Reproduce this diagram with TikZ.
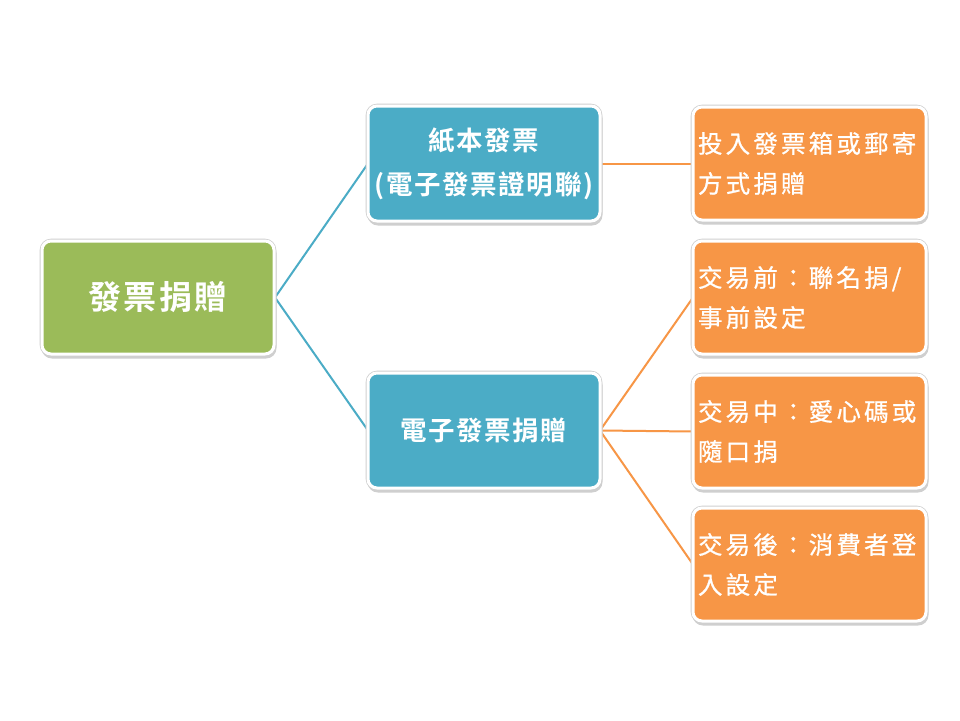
\documentclass[tikz,border=0pt]{standalone}
\usepackage{fontspec}
\setmainfont{Noto Sans CJK TC}[BoldFont={* Bold}]
\newfontfamily\rootfont{Noto Sans CJK TC}[LetterSpace=8,BoldFont={* Bold}]
\newfontfamily\bluefont{Noto Sans CJK TC}[LetterSpace=6,BoldFont={* Bold}]
\newfontfamily\orangefont{Noto Sans CJK TC}[LetterSpace=13,FakeBold=0.8]
\definecolor{cgreen}{HTML}{9BBB59}
\definecolor{cblue}{HTML}{4BACC6}
\definecolor{corange}{HTML}{F79646}
\definecolor{cshadow}{HTML}{CFCFCF}
\definecolor{cedge}{HTML}{D0D0D0}
\tikzset{
  boxbase/.style={rectangle, rounded corners=9pt, draw=white, line width=3pt, text=white,
    preaction={fill=cshadow, draw=cshadow, line width=3pt, transform canvas={yshift=-3pt, xshift=1pt}},
    preaction={draw=cedge, line width=4.6pt}},
  rootbox/.style={boxbase, fill=cgreen, minimum width=232pt, minimum height=113pt,
    font=\rootfont\bfseries\fontsize{33pt}{36pt}\selectfont},
  bluebox/.style={boxbase, fill=cblue, minimum width=232pt, minimum height=115pt, align=center,
    font=\bluefont\bfseries\fontsize{26.5pt}{44pt}\selectfont},
  orangebox/.style={boxbase, fill=corange, minimum width=233pt, minimum height=113pt,
    text width=223pt, inner xsep=5pt, align=left,
    font=\orangefont\fontsize{24.5pt}{40pt}\selectfont},
  bluelink/.style={draw=cblue, line width=2pt},
  orangelink/.style={draw=corange, line width=2pt}
}
\begin{document}
\begin{tikzpicture}[x=1pt,y=-1pt]
\useasboundingbox (0,0) rectangle (960,720);
\fill[white] (0,0) rectangle (960,720);
% connector end points
\coordinate (r) at (275,297.5);
\coordinate (pl) at (368,163.5);
\coordinate (el) at (368,430.5);
\coordinate (pr) at (600,163.5);
\coordinate (er) at (600,430.5);
\coordinate (o1l) at (693,163.5);
\coordinate (o2l) at (693,297.5);
\coordinate (o3l) at (693,431.5);
\coordinate (o4l) at (693,564.5);
\draw[bluelink] (r) -- (pl);
\draw[bluelink] (r) -- (el);
\draw[orangelink] (pr) -- (o1l);
\draw[orangelink] (er) -- (o2l);
\draw[orangelink] (er) -- (o3l);
\draw[orangelink] (er) -- (o4l);
% boxes
\node[rootbox] (root) at (158,297.5) {發票捐贈};
\node[bluebox] (paper) at (484,163.5) {紙本發票\\(電子發票證明聯)};
\node[bluebox] (einv) at (484,430.5) {電子發票捐贈};
\node[orangebox] (o1) at (809.5,163.5) {投入發票箱或郵寄\\方式捐贈};
\node[orangebox] (o2) at (809.5,297.5) {交易前：聯名捐/\\事前設定};
\node[orangebox] (o3) at (809.5,431.5) {交易中：愛心碼或\\隨口捐};
\node[orangebox] (o4) at (809.5,564.5) {交易後：消費者登\\入設定};
\end{tikzpicture}
\end{document}
